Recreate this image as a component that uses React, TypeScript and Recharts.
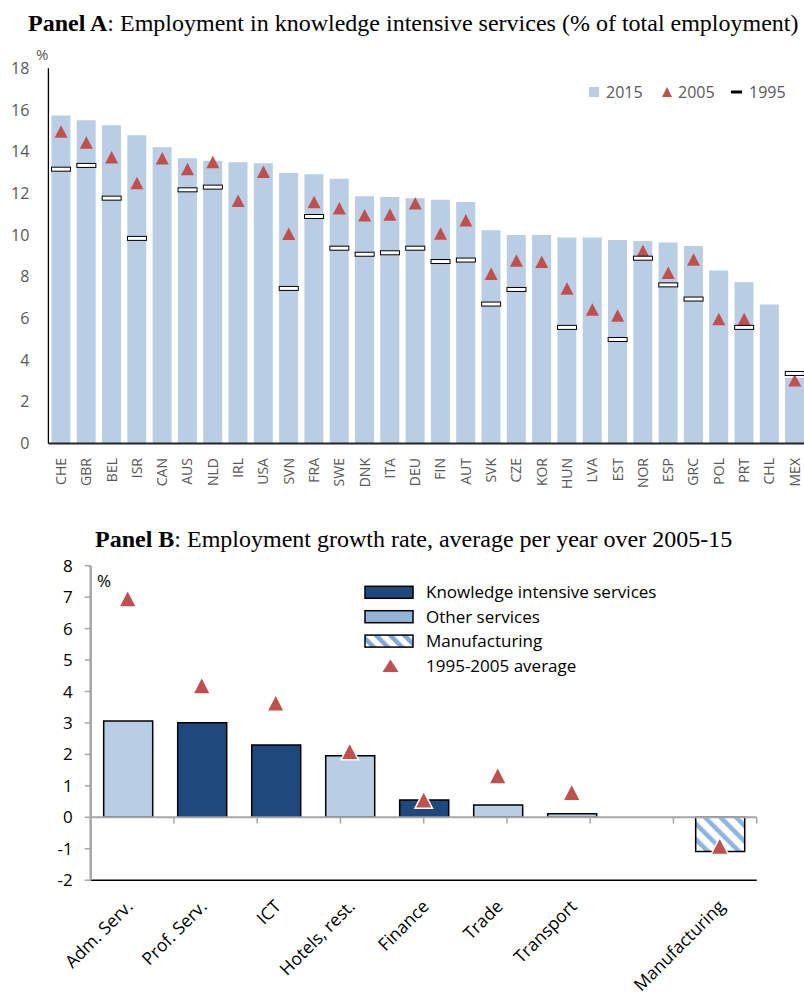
import React from 'react';
import { ComposedChart, Bar, Scatter, XAxis, YAxis, Cell, ReferenceLine, Legend } from 'recharts';

// ---------- Panel A data ----------
const countries = ['CHE','GBR','BEL','ISR','CAN','AUS','NLD','IRL','USA','SVN','FRA','SWE','DNK','ITA','DEU','FIN','AUT','SVK','CZE','KOR','HUN','LVA','EST','NOR','ESP','GRC','POL','PRT','CHL','MEX'];
const share2015 = [15.73,15.51,15.27,14.79,14.21,13.69,13.57,13.49,13.45,12.98,12.92,12.7,11.86,11.82,11.77,11.69,11.58,10.23,10.0,10.0,9.88,9.88,9.76,9.71,9.64,9.47,8.3,7.73,6.67,3.16];
const share2005 = [14.97,14.44,13.73,12.5,13.69,13.17,13.5,11.64,13.04,10.06,11.59,11.28,10.95,10.99,11.52,10.08,10.71,8.14,8.78,8.72,7.44,6.43,6.14,9.24,8.19,8.83,5.97,5.97,null,3.04];
const share1995 = [13.16,13.34,11.77,9.84,null,12.17,12.3,null,null,7.44,10.89,9.37,9.08,9.15,9.37,8.73,8.8,6.69,7.39,null,5.57,null,4.99,8.89,7.61,6.93,null,5.57,null,3.36];
const yTicksA = [0,2,4,6,8,10,12,14,16,18];

// ---------- Panel B data ----------
const sectors = ['Adm. Serv.','Prof. Serv.','ICT','Hotels, rest.','Finance','Trade','Transport','','Manufacturing'];
const growth0515 = [3.06,3.01,2.3,1.96,0.55,0.39,0.11,null,-1.09];
const avg9505 = [6.96,4.19,3.64,2.1,0.56,1.33,0.8,null,-0.91];
const sectorGroup = ['other','kis','kis','other','kis','other','other',null,'manuf'];
const yTicksB = [-2,-1,0,1,2,3,4,5,6,7,8];

const FONT = "'Open Sans', sans-serif";
const SERIF = "'Liberation Serif', 'Times New Roman', serif";
const RED = '#C0504D';
const DARK = '#1F497D';
const LIGHT = '#B9CDE5';
const LIGHT_LEG = '#95B3D7';

const dataA = countries.map((c, i) => ({ name: c, v2015: share2015[i], v2005: share2005[i], v1995: share1995[i] }));
const dataB = sectors.map((s, i) => ({ name: s, growth: growth0515[i], avg: avg9505[i], group: sectorGroup[i] }));
const boundaries = sectors.slice(1).map((_, i) => i + 1);

const fillFor = (g: string | null) => (g === 'kis' ? DARK : g === 'manuf' ? 'url(#hatchB)' : LIGHT);

const triangleShape = (key: string, w: number, h: number, stroke?: string, sw?: number) => (props: any) => {
  const { cx, cy, payload } = props;
  if (!payload || payload[key] == null || cx == null || cy == null) return <g />;
  const pts = `${cx - w / 2},${cy + h / 2} ${cx + w / 2},${cy + h / 2} ${cx},${cy - h / 2}`;
  return <polygon points={pts} fill={RED} stroke={stroke || 'none'} strokeWidth={sw || 0} />;
};

const dashShape = (props: any) => {
  const { cx, cy, payload } = props;
  if (!payload || payload.v1995 == null || cx == null || cy == null) return <g />;
  return <rect x={cx - 9.5} y={cy - 2} width={19} height={4} fill="#fff" stroke="#000" strokeWidth={1} />;
};

const CountryTick = (props: any) => {
  const { x, y, payload } = props;
  const yy = y + 0.5;
  return (
    <text x={x} y={yy} transform={`rotate(-90, ${x}, ${yy})`} textAnchor="end" dy="0.35em" fill="#595959" fontSize={14} fontFamily={FONT}>
      {payload.value}
    </text>
  );
};

const SectorTick = (props: any) => {
  const { x, y, payload } = props;
  const xx = x + 2;
  return (
    <text x={xx} y={y} transform={`rotate(-45, ${xx}, ${y})`} textAnchor="end" dy="0.35em" fill="#000" fontSize={17.5} fontFamily={FONT}>
      {payload.value}
    </text>
  );
};

const LegendA = () => (
  <svg width={215} height={22} style={{ display: 'block' }}>
    <rect x={4} y={7} width={10} height={10} fill={LIGHT} />
    <text x={21} y={12} dy="0.35em" fill="#595959" fontSize={16} fontFamily={FONT}>2015</text>
    <polygon points="77,17 87,17 82,7" fill={RED} />
    <text x={93} y={12} dy="0.35em" fill="#595959" fontSize={16} fontFamily={FONT}>2005</text>
    <rect x={146} y={10.5} width={11} height={3} fill="#000" />
    <text x={164} y={12} dy="0.35em" fill="#595959" fontSize={16} fontFamily={FONT}>1995</text>
  </svg>
);

const legendBItems = [
  { label: 'Knowledge intensive services', fill: DARK },
  { label: 'Other services', fill: LIGHT_LEG },
  { label: 'Manufacturing', fill: 'url(#hatchLeg)' },
];

const LegendB = () => (
  <svg width={340} height={100} style={{ display: 'block' }}>
    <defs>
      <pattern id="hatchLeg" patternUnits="userSpaceOnUse" width={10} height={10} patternTransform="rotate(-45)">
        <rect x={0} y={0} width={10} height={10} fill="#fff" />
        <rect x={0} y={0} width={4.5} height={10} fill="#7FA7D8" />
      </pattern>
    </defs>
    {legendBItems.map((it, i) => (
      <g key={it.label}>
        <rect x={5} y={12.3 + 24.4 * i - 6} width={48} height={12} fill={it.fill} stroke="#000" strokeWidth={1.5} />
        <text x={66} y={12.3 + 24.4 * i} dy="0.35em" fill="#000" fontSize={17} fontFamily={FONT}>{it.label}</text>
      </g>
    ))}
    <polygon points="22.5,92 38.5,92 30.5,79.5" fill={RED} />
    <text x={66} y={85.7} dy="0.35em" fill="#000" fontSize={17} fontFamily={FONT}>1995-2005 average</text>
  </svg>
);

export default function App() {
  return (
    <div style={{ position: 'absolute', left: 0, top: 0, width: 804, height: 995, overflow: 'hidden', background: '#fff' }}>
      <div style={{ position: 'absolute', left: 0, top: 0 }}>
        <ComposedChart width={840} height={500} data={dataA} margin={{ top: 68.3, right: 32.6, left: 8.4, bottom: 6.5 }}>
          <XAxis dataKey="name" height={50} interval={0} axisLine={{ stroke: '#262626', strokeWidth: 2 }} tickLine={false} tickMargin={8} tick={<CountryTick />} />
          <XAxis xAxisId="top" dataKey="name" orientation="top" height={0} tick={false} tickLine={false} axisLine={{ stroke: '#000', strokeWidth: 1.3 }} />
          <YAxis domain={[0, 18]} ticks={yTicksA} interval={0} width={40} axisLine={{ stroke: '#000', strokeWidth: 1.3 }} tickLine={false} tickMargin={13} tick={{ fill: '#595959', fontSize: 16, fontFamily: FONT }} />
          <Bar dataKey="v2015" fill={LIGHT} barSize={19} isAnimationActive={false} />
          <Scatter dataKey="v2005" shape={triangleShape('v2005', 13, 12.5)} isAnimationActive={false} />
          <Scatter dataKey="v1995" shape={dashShape} isAnimationActive={false} />
          <Legend verticalAlign="middle" align="center" content={<LegendA />} wrapperStyle={{ left: 585, top: 80, width: 215, height: 22 }} />
        </ComposedChart>
      </div>

      <svg style={{ position: 'absolute', left: 0, top: 0 }} width={804} height={40}>
        <text x={28} y={31} fontSize={24} fontFamily={SERIF} fill="#000">
          <tspan fontWeight="bold">Panel A</tspan>: Employment in knowledge intensive services (% of total employment)
        </text>
      </svg>
      <svg style={{ position: 'absolute', left: 0, top: 0 }} width={80} height={70}>
        <text x={36} y={60} fontSize={15} fontFamily={FONT} fill="#595959">%</text>
      </svg>

      <div style={{ position: 'absolute', left: 0, top: 520 }}>
        <ComposedChart width={804} height={475} data={dataB} margin={{ top: 45.7, right: 47.3, left: 30.7, bottom: 14.8 }}>
          <defs>
            <pattern id="hatchB" patternUnits="userSpaceOnUse" width={11} height={11} patternTransform="rotate(-45)">
              <rect x={0} y={0} width={11} height={11} fill="#fff" />
              <rect x={0} y={0} width={4.5} height={11} fill="#8DB4E2" />
            </pattern>
          </defs>
          <XAxis dataKey="name" height={100} interval={0} axisLine={{ stroke: '#000', strokeWidth: 1.5 }} tickLine={false} tickMargin={17} tick={<SectorTick />} />
          <XAxis xAxisId="top" dataKey="name" orientation="top" height={0} tick={false} tickLine={false} axisLine={{ stroke: '#000', strokeWidth: 1.5 }} />
          <XAxis xAxisId="num" type="number" domain={[0, 9]} hide />
          <YAxis domain={[-2, 8]} ticks={yTicksB} interval={0} width={60} axisLine={{ stroke: '#A6A6A6', strokeWidth: 2.5 }} tickLine={{ stroke: '#A6A6A6', strokeWidth: 1.5 }} tickSize={6} tickMargin={12} tick={{ fill: '#000', fontSize: 17, fontFamily: FONT }} />
          <YAxis yAxisId="right" orientation="right" domain={[-2, 8]} width={0} tick={false} tickLine={false} axisLine={{ stroke: '#000', strokeWidth: 1.5 }} />
          <Bar dataKey="growth" barSize={49} stroke="#000" strokeWidth={1.5} isAnimationActive={false}>
            {dataB.map((d, i) => (
              <Cell key={i} fill={fillFor(d.group)} />
            ))}
          </Bar>
          <ReferenceLine y={0} stroke="#A6A6A6" strokeWidth={2} />
          {boundaries.map((b) => (
            <ReferenceLine key={b} xAxisId="num" segment={[{ x: b, y: 0 }, { x: b, y: -0.2 }]} stroke="#A6A6A6" strokeWidth={1.5} />
          ))}
          <Scatter dataKey="avg" shape={triangleShape('avg', 17.5, 17, '#fff', 1.5)} isAnimationActive={false} />
          <Legend verticalAlign="middle" align="center" content={<LegendB />} wrapperStyle={{ left: 360, top: 60, width: 340, height: 100 }} />
        </ComposedChart>
      </div>

      <svg style={{ position: 'absolute', left: 0, top: 520 }} width={804} height={32}>
        <text x={95} y={27} fontSize={24} fontFamily={SERIF} fill="#000">
          <tspan fontWeight="bold">Panel B</tspan>: Employment growth rate, average per year over 2005-15
        </text>
      </svg>
      <svg style={{ position: 'absolute', left: 0, top: 560 }} width={130} height={40}>
        <text x={97} y={27} fontSize={17} fontFamily={FONT} fill="#000">%</text>
      </svg>
    </div>
  );
}
